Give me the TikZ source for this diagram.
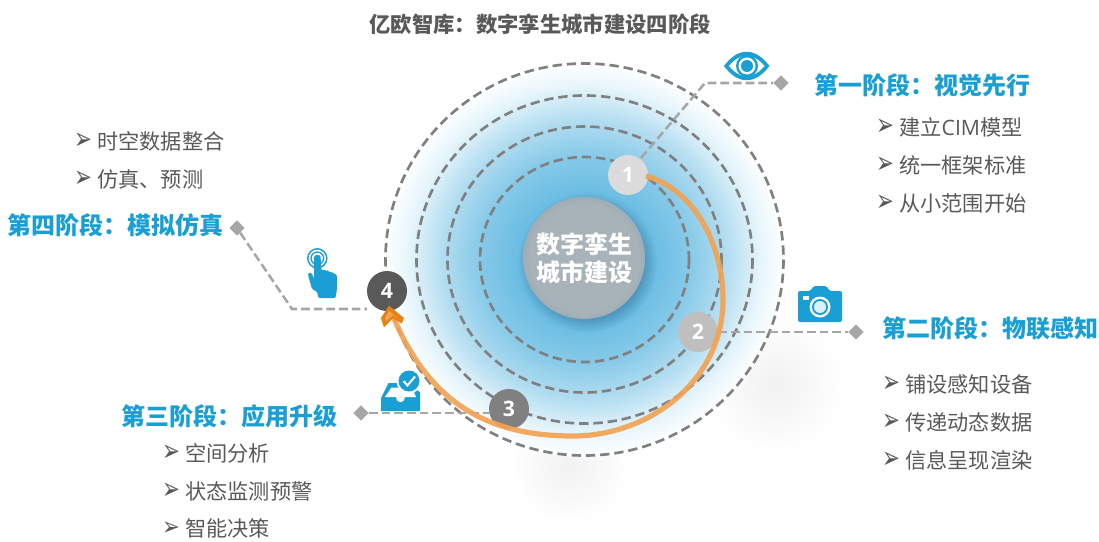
\documentclass[tikz,border=0pt]{standalone}
\usepackage{fontspec}
\setmainfont{Noto Sans CJK SC}
\newfontfamily\numfont{Open Sans}
\newfontfamily\bulfont{DejaVu Sans}
\usetikzlibrary{shapes.geometric}
\definecolor{bluetxt}{HTML}{1A9FD4}
\definecolor{graytxt}{HTML}{595959}
\definecolor{titletxt}{HTML}{595959}
\definecolor{ringc}{HTML}{808080}
\definecolor{connc}{HTML}{A6A6A6}
\definecolor{arcc}{HTML}{F2A353}
\definecolor{headc}{HTML}{E8820F}
\definecolor{gA}{HTML}{66BAE0}
\definecolor{gB}{HTML}{6BBDE3}
\definecolor{gC}{HTML}{85C9E8}
\definecolor{gD}{HTML}{B5DEF1}
\definecolor{gE}{HTML}{E6F5FB}
\definecolor{gS}{HTML}{4D94BC}
\definecolor{gT}{HTML}{F1F1F1}
\definecolor{gF}{HTML}{A8B2B9}
\definecolor{gG}{HTML}{A0ADB5}
\pgfdeclareradialshading{glow}{\pgfpoint{0bp}{0bp}}{%
  color(0bp)=(gA);
  color(8.5bp)=(gB);
  color(13bp)=(gC);
  color(18bp)=(gD);
  color(22bp)=(gE);
  color(25bp)=(white);
  color(50bp)=(white)}
\pgfdeclareradialshading{discshadow}{\pgfpoint{0bp}{0bp}}{%
  color(0bp)=(gS);
  color(20bp)=(gS);
  color(25bp)=(gB);
  color(50bp)=(gB)}
\pgfdeclareradialshading{softgray}{\pgfpoint{0bp}{0bp}}{%
  color(0bp)=(gT);
  color(25bp)=(white);
  color(50bp)=(white)}
\pgfdeclareradialshading{discface}{\pgfpoint{0bp}{0bp}}{%
  color(0bp)=(gF);
  color(22bp)=(gF);
  color(25bp)=(gG);
  color(50bp)=(gG)}
\tikzset{
  ring/.style={draw=ringc,line width=2pt,dash pattern=on 7pt off 3.7pt},
  conn/.style={draw=connc,line width=1.9pt,dash pattern=on 6.5pt off 3pt},
  numnode/.style={circle,minimum size=30pt,inner sep=0pt,text=white,font=\numfont\bfseries\fontsize{16}{16}\selectfont},
  mark diamond/.style={diamond,fill=connc,minimum size=11.5pt,inner sep=0pt},
  heading/.style={anchor=center,inner sep=0pt,text=bluetxt,font=\bfseries\fontsize{18}{18}\selectfont},
  item/.style={anchor=west,inner sep=0pt,text=graytxt,font=\fontsize{15.9}{16}\selectfont},
  bul/.style={anchor=center,inner sep=0pt,text=graytxt,font=\bulfont\fontsize{16}{16}\selectfont},
  icon/.style={fill=bluetxt,draw=none}
}
\newcommand{\bulletitem}[4]{%
  \node[bul] (#1b) at (#2+8,#3) {\scalebox{1}[1.45]{➢}};
  \node[item] (#1) at (#2+22,#3) {#4};}
\begin{document}
\begin{tikzpicture}[x=0.75pt,y=-0.75pt]
\useasboundingbox (0,0) rectangle (1099,542);
% soft shadows
\shade[shading=softgray] (775,385) circle[radius=70];
\shade[shading=softgray] (570,465) circle[radius=60];
% glow and rings
\shade[shading=glow] (584.5,259.5) ellipse[x radius=200,y radius=197];
\path[ring] (584.5,259.5) ellipse[x radius=104.5,y radius=102.5];
\path[ring] (584.5,259.5) ellipse[x radius=137,y radius=133];
\path[ring] (584.5,259.5) ellipse[x radius=168,y radius=164];
\path[ring] (584.5,259.5) ellipse[x radius=199,y radius=196];
% centre disc
\shade[shading=discshadow] (587,262) circle[radius=70];
\node[circle,minimum size=91.5pt,inner sep=0pt,shading=discface,align=center,text=white,
  font=\bfseries\fontsize{18}{21}\selectfont] (core) at (584,258) {数字孪生\\城市建设};
% title
\node[inner sep=0pt,text=titletxt,font=\bfseries\fontsize{16}{16}\selectfont] (title) at (540,24) {亿欧智库：数字孪生城市建设四阶段};
% stage nodes
\node[numnode,fill=white!86!black] (n1) at (628,175) {1};
\node[numnode,fill=black!25!white] (n2) at (698,332) {2};
\node[numnode,fill=black!50!white] (n3) at (509,409) {3};
\node[numnode,fill=black!65!white] (n4) at (387,291) {4};
% markers
\node[mark diamond] (d1) at (781,83) {};
\node[mark diamond] (d2) at (856,332) {};
\node[mark diamond] (d3) at (361,413) {};
\node[mark diamond] (d4) at (237,228) {};
\coordinate (c1) at (705,83);
\coordinate (c4) at (292,309);
\coordinate (s3) at (489,413);
\coordinate (s4) at (367,309);
% connectors
\path[conn] (n1) ++(13,-17) -- (c1) -- (d1);
\path[conn] (n2.east) -- (d2);
\path[conn] (d3) -- (s3);
\path[conn] (d4) -- (c4) -- (s4);
% arc
\coordinate (arcS) at (646,176);
\coordinate (arcE) at (393,316);
\draw[arcc,line width=3.9pt,opacity=.92] (arcS) .. controls (695,190) and (723,245) .. (723,300)
  .. controls (723,380) and (650,436) .. (573,436)
  .. controls (490,436) and (430,405) .. (arcE);
\fill[headc] (389,305.7) -- (404,318) -- (401.7,323.5) -- (393,318) -- (384,327.5) -- (381,318) -- cycle;
\fill[arcc] (389,311) -- (398,318.5) -- (393,315) -- (386,321.5) -- (385,318) -- cycle;
% eye icon
\fill[icon] (724,66) .. controls (738,47) and (755,47) .. (769.5,66) .. controls (755,85) and (738,85) .. (724,66) -- cycle;
\fill[white] (729,66) .. controls (740,52.5) and (753,52.5) .. (764.5,66) .. controls (753,79.5) and (740,79.5) .. (729,66) -- cycle;
\fill[icon] (747,66) circle[radius=11];
\fill[white] (747,66) circle[radius=8.5];
\fill[icon] (747,66) circle[radius=6];
% camera icon
\fill[icon,rounded corners=1.5pt] (798,291) -- (811,291) -- (813,286) -- (827,286) -- (829,291) -- (842,291) -- (842,322) -- (798,322) -- cycle;
\fill[white] (820,307) circle[radius=10.5];
\fill[icon] (820,307) circle[radius=8];
\fill[white!85!bluetxt] (820,307) circle[radius=6];
\fill[white] (803,296) rectangle (809,300);
% hand icon
\draw[bluetxt,line width=1.1pt] (317.3,258.3) circle[radius=9.5];
\draw[bluetxt,line width=1pt] (317.3,258.3) circle[radius=6.3];
\fill[icon,rounded corners=1.2pt] (314,259) -- (314.3,255) -- (320.4,255) -- (320.8,259) -- (320.8,270) -- (327,270) -- (327.5,271.5) -- (332,272) -- (333,273.5) -- (337,274.5) -- (337,291) -- (336,292) -- (336,298) -- (318,298) -- (317.5,292) -- (312,289) -- (308,275) -- (308.5,272.5) -- (311.5,272.5) -- (314,279) -- cycle;
% inbox icon
\fill[icon] (381,411) -- (381,398) -- (388.5,383) -- (405,383) -- (420,392) -- (420,411) -- cycle;
\fill[white] (385,397) -- (391.5,387.5) -- (412,387.5) -- (416,397) -- (405,397) .. controls (404,404) and (397,404) .. (396,397) -- cycle;
\fill[white] (409,381) circle[radius=12.5];
\fill[icon] (409,381) circle[radius=10.5];
\draw[white,line width=1.5pt] (403.5,381) -- (407.5,385.5) -- (415,376.5);
% stage 1 text
\node[heading] (h1) at (922.5,85) {第一阶段：视觉先行};
\bulletitem{a1}{877}{127}{建立{\numfont CIM}模型}
\bulletitem{a2}{877}{165}{统一框架标准}
\bulletitem{a3}{877}{203}{从小范围开始}
% stage 2 text
\node[heading] (h2) at (990,328) {第二阶段：物联感知};
\bulletitem{b1}{883}{384}{铺设感知设备}
\bulletitem{b2}{883}{422}{传递动态数据}
\bulletitem{b3}{883}{460}{信息呈现渲染}
% stage 3 text
\node[heading] (h3) at (229,416) {第三阶段：应用升级};
\bulletitem{e1}{163}{453}{空间分析}
\bulletitem{e2}{163}{491}{状态监测预警}
\node[bul] (e3b) at (171,529) {\scalebox{1}[1.2]{➢}};
\node[item] (e3) at (185,528.5) {智能决策};
% stage 4 text
\node[heading] (h4) at (115.5,225) {第四阶段：模拟仿真};
\bulletitem{f1}{75}{141}{时空数据整合}
\bulletitem{f2}{75}{179}{仿真、预测}
\end{tikzpicture}
\end{document}
